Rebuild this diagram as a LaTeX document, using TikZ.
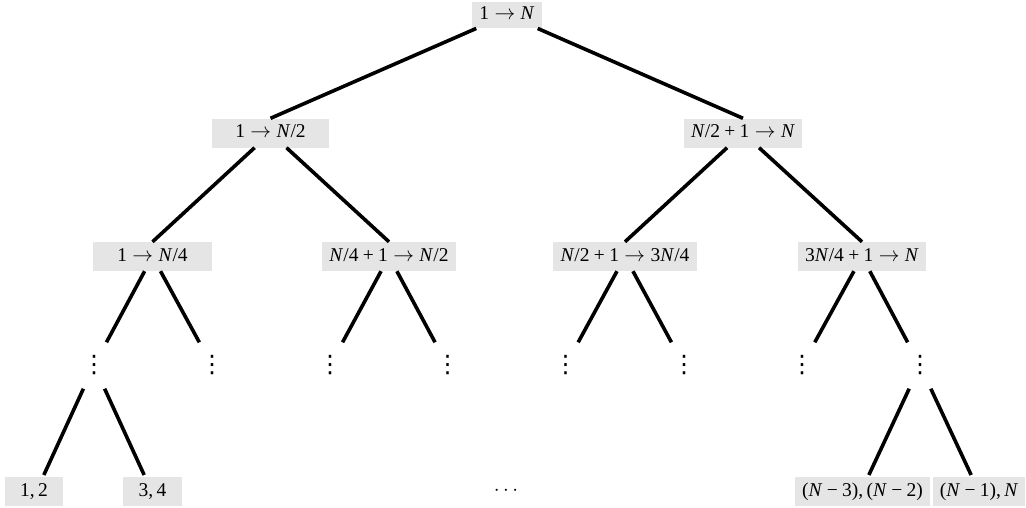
\documentclass[tikz,border=0pt]{standalone}
\usepackage{fontspec}
\setmainfont{Liberation Serif}
\newfontfamily\dvsans{DejaVu Sans}
\usetikzlibrary{calc}
\newcommand{\NN}{\textit{N}}
\newcommand{\myto}{\hspace{0.278em}$\rightarrow$\hspace{0.278em}}
\newcommand{\mypl}{\hspace{0.222em}+\hspace{0.222em}}
\newcommand{\mymi}{\hspace{0.222em}−\hspace{0.222em}}
\newcommand{\mycm}{,\hspace{0.167em}}
\newcommand{\myvd}{{\dvsans\fontsize{24}{24}\selectfont ⋮}}
\newcommand{\mycd}{$\cdot$\kern3.6pt$\cdot$\kern3.6pt$\cdot$}
\begin{document}
\begin{tikzpicture}[x=1pt,y=-1pt,
  box/.style={fill=black!10, inner xsep=7pt, inner ysep=5.25pt, text height=14pt, text depth=4.5pt,
    font=\fontsize{19.5}{22}\selectfont},
  vd/.style={inner sep=0pt, minimum width=30pt, minimum height=46pt},
  plain/.style={inner sep=0pt, font=\fontsize{19.5}{22}\selectfont},
  conn/.style={line width=3.6pt}]
\useasboundingbox (0,0) rectangle (1026,507);
% level 0
\node[box, minimum width=66pt, text height=13pt, inner ysep=4.5pt] (root) at (507,15) {1\myto\NN};
% level 1
\node[box, minimum width=117pt] (l1a) at (270.5,133) {1\myto\NN/2};
\node[box, minimum width=118pt] (l1b) at (743,133) {\NN/2\mypl1\myto\NN};
% level 2
\node[box, minimum width=119pt] (l2a) at (152.5,256.5) {1\myto\NN/4};
\node[box, minimum width=134pt] (l2b) at (389,256.5) {\NN/4\mypl1\myto\NN/2};
\node[box, minimum width=144pt] (l2c) at (625,256.5) {\NN/2\mypl1\myto3\NN/4};
\node[box, minimum width=126pt] (l2d) at (862,256.5) {3\NN/4\mypl1\myto\NN};
% level 3 (vertical dots)
\node[vd] (v1) at (94,365.5) {\myvd};
\node[vd] (v2) at (212,365.5) {\myvd};
\node[vd] (v3) at (330,365.5) {\myvd};
\node[vd] (v4) at (447.5,365.5) {\myvd};
\node[vd] (v5) at (565.5,365.5) {\myvd};
\node[vd] (v6) at (684,365.5) {\myvd};
\node[vd] (v7) at (802,365.5) {\myvd};
\node[vd] (v8) at (920,365.5) {\myvd};
% leaves
\node[box, minimum width=58pt] (lf1) at (34,491.5) {1\mycm2};
\node[box, minimum width=59pt] (lf2) at (152.5,491.5) {3\mycm4};
\node[plain] (mid) at (506,491) {\mycd};
\node[box, minimum width=135pt, inner xsep=4pt] (lf3) at (862.5,491.5) {(\NN\mymi3)\mycm(\NN\mymi2)};
\node[box, minimum width=92pt, inner xsep=4pt] (lf4) at (979,491.5) {(\NN\mymi1)\mycm\NN};
% connectors
\draw[conn] (root) -- (l1a.north);
\draw[conn] (root) -- (l1b.north);
\draw[conn] (l1a) -- (l2a.north);
\draw[conn] (l1a) -- (l2b.north);
\draw[conn] (l1b) -- (l2c.north);
\draw[conn] (l1b) -- (l2d.north);
\draw[conn] (l2a) -- (v1);
\draw[conn] (l2a) -- (v2);
\draw[conn] (l2b) -- (v3);
\draw[conn] (l2b) -- (v4);
\draw[conn] (l2c) -- (v5);
\draw[conn] (l2c) -- (v6);
\draw[conn] (l2d) -- (v7);
\draw[conn] (l2d) -- (v8);
\draw[conn, shorten >=2pt] (v1) -- ($(lf1.north)+(9,0)$);
\draw[conn, shorten >=2pt] (v1) -- ($(lf2.north)+(-7.5,0)$);
\draw[conn, shorten >=2pt] (v8) -- ($(lf3.north)+(5.5,0)$);
\draw[conn, shorten >=2pt] (v8) -- ($(lf4.north)+(-7,0)$);
\end{tikzpicture}
\end{document}
